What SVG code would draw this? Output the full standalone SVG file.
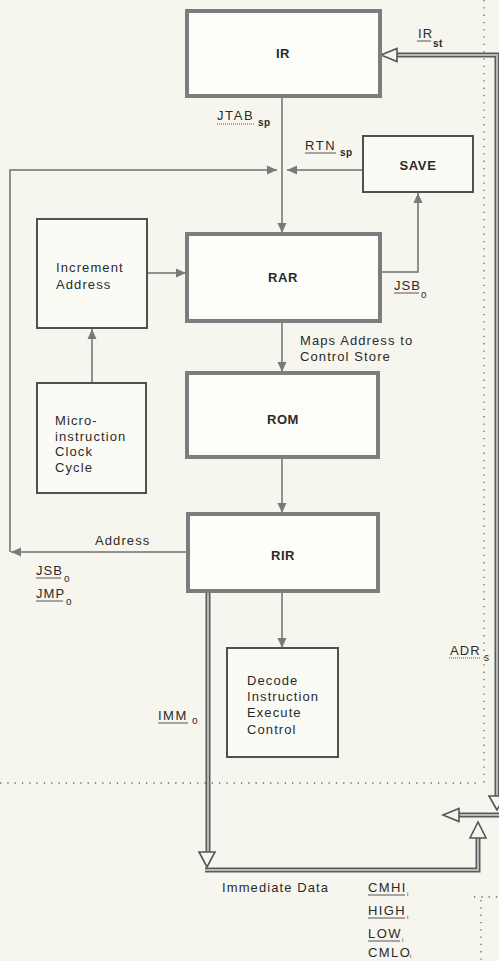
<svg xmlns="http://www.w3.org/2000/svg" width="499" height="961" viewBox="0 0 499 961">
<defs>
<marker id="arr" markerUnits="userSpaceOnUse" markerWidth="11" markerHeight="10" refX="10" refY="5" orient="auto">
<path d="M0,0.5 L10,5 L0,9.5 Z" fill="#7a7a7a"/>
</marker>
<style>
.bg{fill:#f7f6ee}
.big{fill:#fdfdf9;stroke:#7d7d7d;stroke-width:4}
.small{fill:#fbfbf6;stroke:#505050;stroke-width:2}
.ln{fill:none;stroke:#6f6f6f;stroke-width:1.5}
.busO{fill:none;stroke:#5a5a5a;stroke-width:5}
.busI{fill:none;stroke:#b8b8b8;stroke-width:2}
.hol{fill:#f7f6ee;stroke:#555;stroke-width:1.6}
.dot{fill:none;stroke:#666;stroke-width:1.3;stroke-dasharray:1.3 6}
.ul{stroke:#555;stroke-width:1}
text{font-family:"Liberation Sans",Arial,sans-serif;fill:#2a2a2a}
.bl{font-size:13px;font-weight:bold;text-anchor:middle;letter-spacing:0.6px}
.t{font-size:13px;letter-spacing:1.1px}
.sub{font-size:10px;letter-spacing:0.5px}
.si{font-size:6px}
</style>
</defs>
<rect class="bg" x="0" y="0" width="499" height="961"/>

<g id="dotted">
<path class="dot" d="M484,0 L484,783"/>
<path class="dot" d="M0,783 L476,783"/>
<path class="dot" d="M474,897 L499,897"/>
<path class="dot" d="M481,900 L481,961"/>
</g>

<g id="connectors">
<path class="ln" d="M282,97 L282,233" marker-end="url(#arr)"/>
<path class="ln" d="M186,552 L11,552" marker-end="url(#arr)"/>
<path class="ln" d="M10,552 L10,170 L277,170" marker-end="url(#arr)"/>
<path class="ln" d="M363,170 L287,170" marker-end="url(#arr)"/>
<path class="ln" d="M147,273 L186,273" marker-end="url(#arr)"/>
<path class="ln" d="M380,272 L418,272 L418,193" marker-end="url(#arr)"/>
<path class="ln" d="M92,383 L92,329" marker-end="url(#arr)"/>
<path class="ln" d="M282,322 L282,372" marker-end="url(#arr)"/>
<path class="ln" d="M282,457 L282,513" marker-end="url(#arr)"/>
<path class="ln" d="M282,592 L282,648" marker-end="url(#arr)"/>
<path class="busO" d="M396,55 L497,55 L497,797"/>
<path class="busI" d="M396,55 L497,55 L497,797"/>
<path class="hol" d="M381,55 L397,48.5 L397,61.5 Z"/>
<path class="hol" d="M497,810 L489,796 L505,796 Z"/>
<path class="busO" d="M458,815 L499,815"/>
<path class="busI" d="M458,815 L499,815"/>
<path class="hol" d="M443,815 L459,808.5 L459,821.5 Z"/>
<path class="busO" d="M208,592 L208,852"/>
<path class="busI" d="M208,592 L208,852"/>
<path class="hol" d="M207,867 L199,852 L215,852 Z"/>
<path class="busO" d="M205,870 L478,870 L478,838"/>
<path class="busI" d="M205,870 L478,870 L478,838"/>
<path class="hol" d="M478,822 L470,838 L486,838 Z"/>
</g>

<g id="IR">
<rect class="big" x="187" y="11" width="193" height="85"/>
<text class="bl" x="283" y="58">IR</text>
</g>
<g id="SAVE">
<rect class="small" x="363" y="136" width="110" height="56"/>
<text class="bl" x="418" y="170">SAVE</text>
</g>
<g id="IncrementAddress">
<rect class="small" x="37" y="219" width="110" height="109"/>
<text class="t" x="56" y="272">Increment</text>
<text class="t" x="56" y="289">Address</text>
</g>
<g id="RAR">
<rect class="big" x="187" y="234" width="193" height="87"/>
<text class="bl" x="283" y="282">RAR</text>
</g>
<g id="ROM">
<rect class="big" x="187" y="373" width="191" height="84"/>
<text class="bl" x="283" y="424">ROM</text>
</g>
<g id="Microinstruction">
<rect class="small" x="37" y="383" width="109" height="110"/>
<text class="t" x="55" y="425">Micro-</text>
<text class="t" x="55" y="441">instruction</text>
<text class="t" x="55" y="456">Clock</text>
<text class="t" x="55" y="472">Cycle</text>
</g>
<g id="RIR">
<rect class="big" x="188" y="514" width="190" height="77"/>
<text class="bl" x="283" y="560">RIR</text>
</g>
<g id="Decode">
<rect class="small" x="227" y="648" width="111" height="109"/>
<text class="t" x="247" y="685">Decode</text>
<text class="t" x="247" y="701">Instruction</text>
<text class="t" x="247" y="717">Execute</text>
<text class="t" x="247" y="734">Control</text>
</g>

<g id="labels">
<text class="t" x="418" y="38">IR</text><line class="ul" x1="417" y1="41" x2="431" y2="41"/>
<text class="sub" x="433" y="47" style="font-weight:bold">st</text>
<text class="t" x="217" y="120" style="letter-spacing:1.6px">JTAB</text><line class="ul" x1="217" y1="124" x2="254" y2="124" stroke-dasharray="1 1"/>
<text class="sub" x="258" y="126" style="font-weight:bold">sp</text>
<text class="t" x="305" y="150" style="letter-spacing:1.6px">RTN</text><line class="ul" x1="305" y1="153" x2="336" y2="153"/>
<text class="sub" x="340" y="156" style="font-weight:bold">sp</text>
<text class="t" x="394" y="290">JSB</text><line class="ul" x1="394" y1="293" x2="419" y2="293"/>
<text class="sub" x="421" y="298">o</text>
<text class="t" x="300" y="345">Maps Address to</text>
<text class="t" x="300" y="361">Control Store</text>
<text class="t" x="95" y="545">Address</text>
<text class="t" x="36" y="575">JSB</text><line class="ul" x1="36" y1="578" x2="61" y2="578"/>
<text class="sub" x="64" y="582">o</text>
<text class="t" x="36" y="598">JMP</text><line class="ul" x1="36" y1="601" x2="63" y2="601"/>
<text class="sub" x="66" y="605">o</text>
<text class="t" x="450" y="655">ADR</text><line class="ul" x1="449" y1="658" x2="481" y2="658" stroke-dasharray="1 1"/>
<text class="sub" x="484" y="661">s</text>
<text class="t" x="158" y="720" style="letter-spacing:1.5px">IMM</text><line class="ul" x1="158" y1="723" x2="188" y2="723"/>
<text class="sub" x="192" y="724">o</text>
<text class="t" x="222" y="892">Immediate Data</text>
<text class="t" x="368" y="892" style="letter-spacing:1.4px">CMHI</text><line class="ul" x1="368" y1="895" x2="405" y2="895"/>
<text class="si" x="407" y="896">i</text>
<text class="t" x="368" y="915" style="letter-spacing:1.4px">HIGH</text><line class="ul" x1="368" y1="918" x2="405" y2="918"/>
<text class="si" x="407" y="919">i</text>
<text class="t" x="368" y="938" style="letter-spacing:1.4px">LOW</text><line class="ul" x1="368" y1="941" x2="400" y2="941"/>
<text class="si" x="402" y="942">i</text>
<text class="t" x="368" y="957" style="letter-spacing:1.4px">CMLO</text>
<text class="si" x="410" y="958">i</text>
</g>
</svg>
